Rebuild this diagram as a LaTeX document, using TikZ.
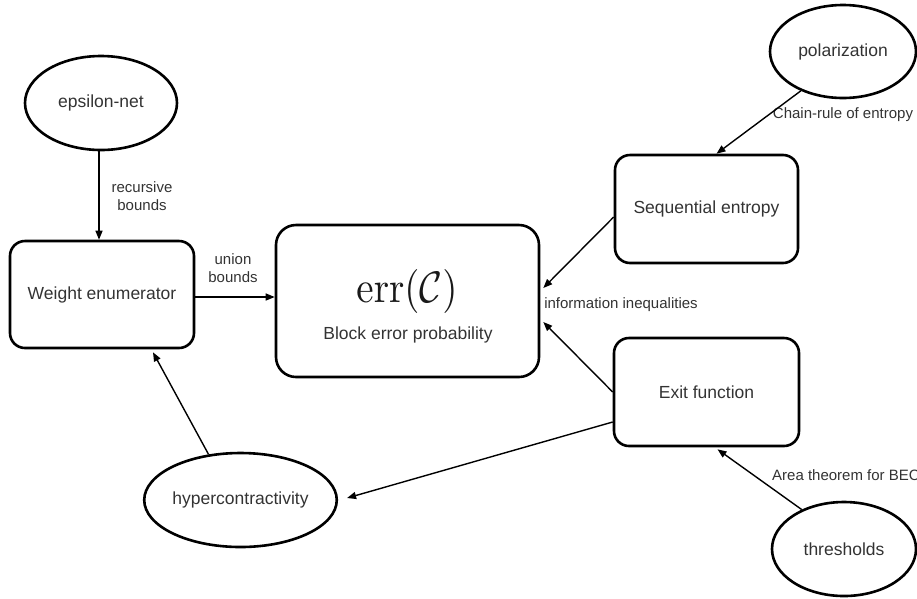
\documentclass[tikz,border=0pt]{standalone}
\usepackage[no-math]{fontspec}
\setmainfont{Liberation Sans}
\usetikzlibrary{shapes.geometric,arrows.meta}
\begin{document}
\begin{tikzpicture}[x=1pt,y=-1pt,
  bigtxt/.style={font=\fontsize{17.5}{21}\selectfont, text=black!80},
  smalltxt/.style={font=\fontsize{15}{18}\selectfont, text=black!80, align=center, inner sep=0pt},
  oval/.style={ellipse, draw, line width=2.6pt, inner sep=0pt, bigtxt},
  rbox/.style={rectangle, rounded corners=15pt, draw, line width=2.6pt, inner sep=0pt, bigtxt},
  conn/.style={line width=1.4pt, -{Triangle[length=9pt,width=7pt]}}
]
\useasboundingbox (0,0) rectangle (917,598);
% nodes
\node[oval, minimum width=152pt, minimum height=94pt] (eps) at (101,103) {epsilon-net};
\node[rbox, minimum width=184pt, minimum height=107pt] (we) at (102,294.5) {Weight enumerator};
\node[rbox, rounded corners=20pt, minimum width=263pt, minimum height=152pt] (err) at (407.5,301) {};
\node[inner sep=0pt, text=black!90] (errmath) at (407,291) {\scalebox{3.9}[4.4]{$\mathrm{err}(\mathcal{C})$}};
\node[bigtxt, inner sep=0pt] (errtxt) at (408,335) {Block error probability};
\node[rbox, minimum width=183pt, minimum height=108pt] (seq) at (706.5,209) {Sequential entropy};
\node[oval, minimum width=146pt, minimum height=93pt] (pol) at (843,51.5) {polarization};
\node[rbox, minimum width=185pt, minimum height=108pt] (exit) at (706.5,392) {Exit function};
\node[oval, minimum width=144pt, minimum height=94pt] (thr) at (844,549) {thresholds};
\node[oval, minimum width=149pt, minimum height=94pt] (hyp) at (240.5,500) {hypercontractivity};
% labels
\node[smalltxt] (lrec) at (142,196) {recursive\\bounds};
\node[smalltxt] (luni) at (233,268) {union\\bounds};
\node[smalltxt] (linf) at (621,305) {information inequalities};
\node[smalltxt] (lcha) at (843,115) {Chain-rule of entropy};
\node[smalltxt, anchor=west] (lare) at (772,475) {Area theorem for BEC};
% connectors
\draw[conn] ([xshift=-2pt]eps.south) -- ([xshift=-3pt]we.north);
\draw[conn] ([yshift=-2.5pt]we.east) -- ([yshift=4pt]err.west);
\draw[conn] (pol.223) -- ([xshift=10pt]seq.north);
\draw[conn] ([yshift=-8pt]seq.west) -- ([xshift=3pt,yshift=13pt]err.east);
\draw[conn] (exit.west) -- ([xshift=3pt,yshift=-21pt]err.east);
\draw[conn] (thr.137) -- ([xshift=11pt,yshift=-2pt]exit.south);
\draw[conn] ([yshift=-30pt]exit.west) -- ([xshift=9pt,yshift=2pt]hyp.east);
\draw[conn] (hyp.125) -- ([xshift=51pt,yshift=-3pt]we.south);
\end{tikzpicture}
\end{document}
